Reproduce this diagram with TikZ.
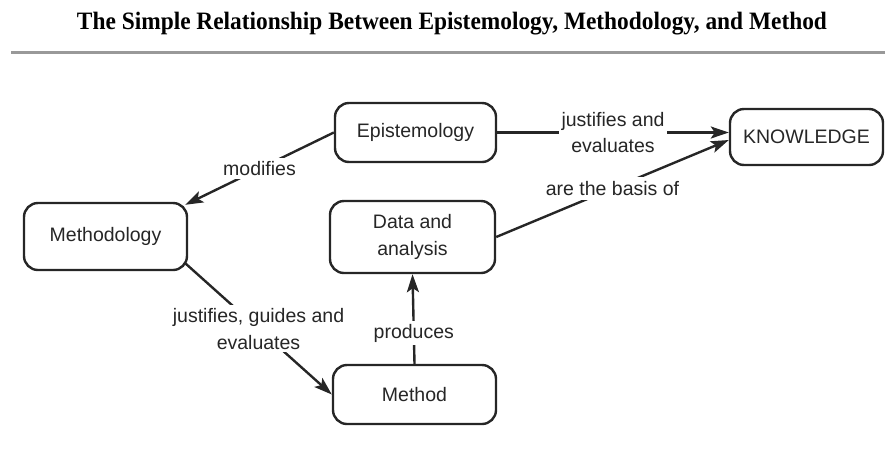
\documentclass[tikz,border=0pt]{standalone}
\usepackage{graphicx}
\usepackage{fontspec}
\setmainfont{Liberation Sans}
\newfontfamily\titlefont{Liberation Serif}
\usetikzlibrary{arrows.meta}
\newcommand{\diagfnt}{\fontsize{19.5}{26.5}\selectfont}
\begin{document}
\begin{tikzpicture}[x=1pt,y=-1pt,
  box/.style={draw=black!85, line width=2.4pt, rounded corners=14pt, align=center,
    font=\diagfnt, text=black!85, inner sep=2pt},
  conn/.style={draw=black!85, line width=2.4pt,
    -{Stealth[length=18pt,width=12pt,inset=4pt]}},
  lbl/.style={fill=white, inner sep=3pt, align=center, font=\diagfnt, text=black!85},
]
\useasboundingbox (0,0) rectangle (885,448);

% title and rule
\node[anchor=base, inner sep=0pt] (title) at (452,29)
  {\resizebox{750pt}{\height}{\titlefont\bfseries\fontsize{25}{30}\selectfont
   The Simple Relationship Between Epistemology, Methodology, and Method}};
\coordinate (ruleL) at (11,52);
\coordinate (ruleR) at (885,52);
\draw[line width=3pt, black!40] (ruleL) -- (ruleR);

% nodes
\node[box, minimum width=161pt, minimum height=59pt] (epist) at (415.5,132.5) {Epistemology};
\node[box, minimum width=165pt, minimum height=72pt] (data) at (412.5,237) {Data and\\analysis};
\node[box, minimum width=163pt, minimum height=67pt] (meth) at (105.5,236.5) {Methodology};
\node[box, minimum width=163pt, minimum height=59pt] (method) at (414.5,394.5) {Method};
\node[box, minimum width=153pt, minimum height=56pt] (know) at (806.5,137) {KNOWLEDGE};

% connectors
\draw[conn] (epist.west) -- node[lbl]{modifies} ([xshift=-3pt,yshift=-3pt]meth.north east);
\draw[conn] (epist.east) -- node[lbl]{justifies and\\evaluates} (epist.east -| know.west);
\draw[conn] (data.east) -- node[lbl, inner sep=4pt]{are the basis of} ([yshift=-3pt]know.west);
\draw[conn] ([xshift=-3pt,yshift=8pt]meth.south east) -- node[lbl]{justifies, guides and\\evaluates} (method.west);
\draw[conn] (method.north) -- node[lbl, pos=0.34]{produces} (data.south);
\end{tikzpicture}
\end{document}
